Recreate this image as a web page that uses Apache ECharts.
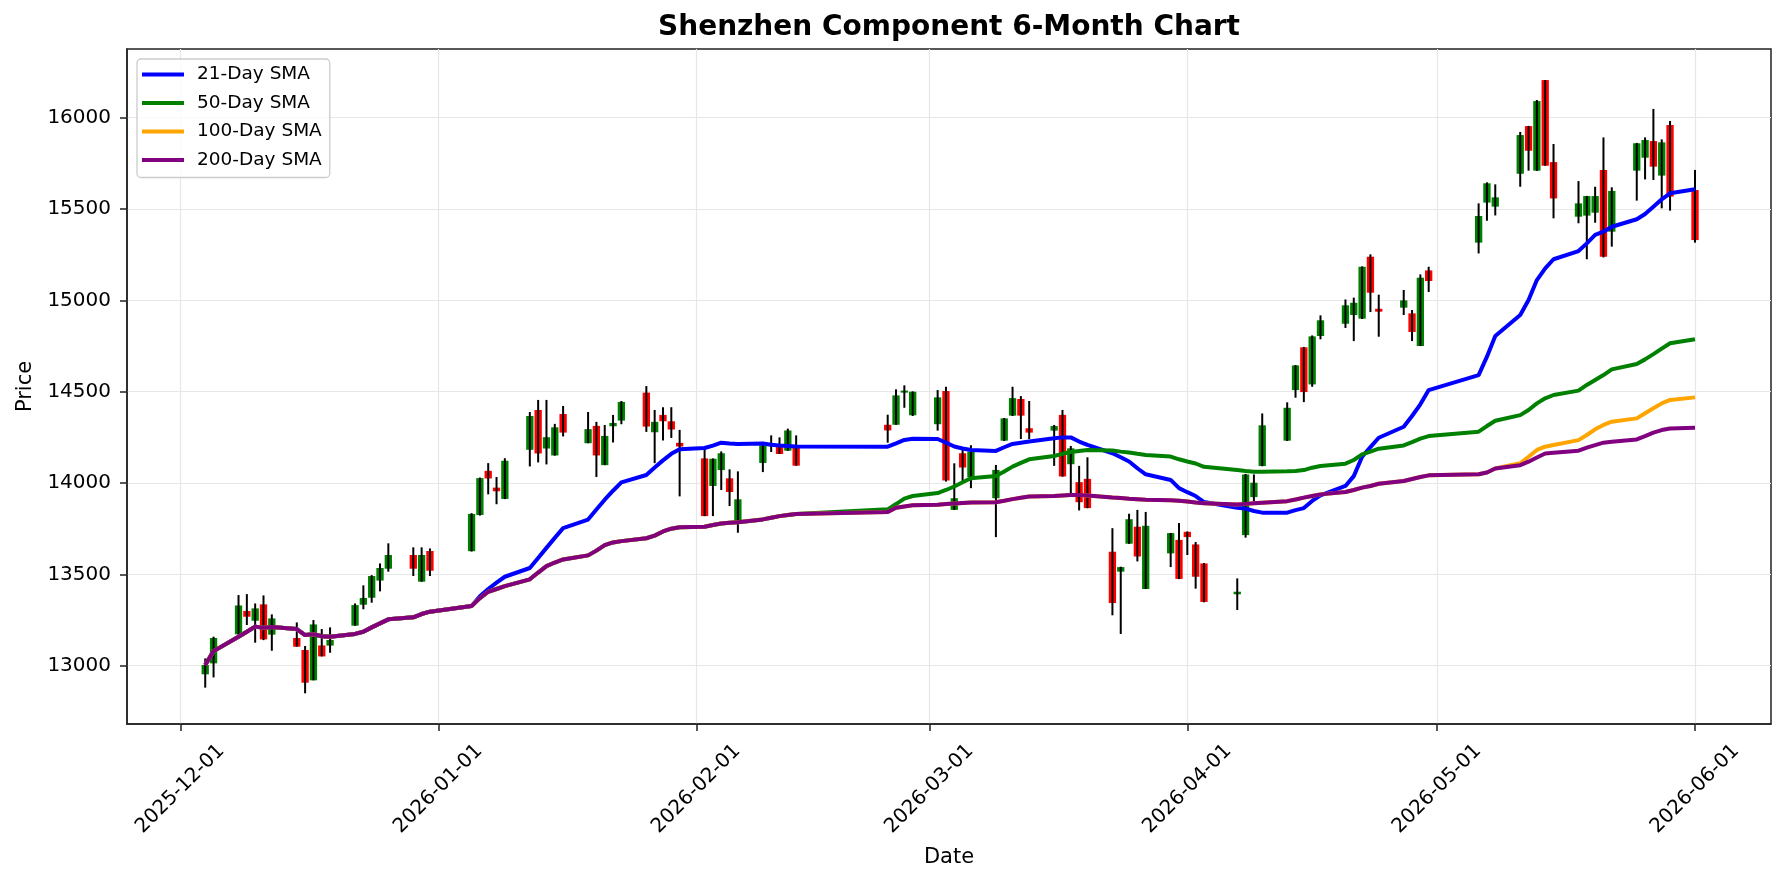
<!DOCTYPE html>
<html>
<head>
<meta charset="utf-8">
<title>Shenzhen Component 6-Month Chart</title>
<script src="https://cdn.jsdelivr.net/npm/echarts@6/dist/echarts.min.js"></script>
<style>
html, body { margin: 0; padding: 0; background: #fff; }
#chart { width: 1785px; height: 885px; }
</style>
</head>
<body>
<div id="chart"></div>
<script>
// trading days
var dates = [
  '2025-12-04','2025-12-05','2025-12-08','2025-12-09','2025-12-10','2025-12-11','2025-12-12','2025-12-15','2025-12-16','2025-12-17',
  '2025-12-18','2025-12-19','2025-12-22','2025-12-23','2025-12-24','2025-12-25','2025-12-26','2025-12-29','2025-12-30','2025-12-31',
  '2026-01-05','2026-01-06','2026-01-07','2026-01-08','2026-01-09','2026-01-12','2026-01-13','2026-01-14','2026-01-15','2026-01-16',
  '2026-01-19','2026-01-20','2026-01-21','2026-01-22','2026-01-23','2026-01-26','2026-01-27','2026-01-28','2026-01-29','2026-01-30',
  '2026-02-02','2026-02-03','2026-02-04','2026-02-05','2026-02-06','2026-02-09','2026-02-10','2026-02-11','2026-02-12','2026-02-13',
  '2026-02-24','2026-02-25','2026-02-26','2026-02-27',
  '2026-03-02','2026-03-03','2026-03-04','2026-03-05','2026-03-06','2026-03-09','2026-03-10','2026-03-11','2026-03-12','2026-03-13',
  '2026-03-16','2026-03-17','2026-03-18','2026-03-19','2026-03-20','2026-03-23','2026-03-24','2026-03-25','2026-03-26','2026-03-27',
  '2026-03-30','2026-03-31',
  '2026-04-01','2026-04-02','2026-04-03','2026-04-07','2026-04-08','2026-04-09','2026-04-10','2026-04-13','2026-04-14','2026-04-15',
  '2026-04-16','2026-04-17','2026-04-20','2026-04-21','2026-04-22','2026-04-23','2026-04-24','2026-04-27','2026-04-28','2026-04-29',
  '2026-04-30',
  '2026-05-06','2026-05-07','2026-05-08','2026-05-11','2026-05-12','2026-05-13','2026-05-14','2026-05-15','2026-05-18','2026-05-19',
  '2026-05-20','2026-05-21','2026-05-22','2026-05-25','2026-05-26','2026-05-27','2026-05-28','2026-05-29',
  '2026-06-01'
];

var openArr = [
  12953,13013,13172,13300,13246,13336,13170,13152,13086,12920,13111,13110,13219,13334,13372,13466,13531,13606,13460,13628,
  13627,13825,14067,13975,13913,14182,14400,14189,14151,14378,14218,14313,14098,14311,14342,14495,14278,14373,14338,14220,
  14135,13984,14071,14026,13792,14110,14212,14197,14177,14192,14319,14319,14495,14371,
  14322,14504,13853,14163,14032,13917,14232,14369,14460,14300,14287,14373,14103,14005,14023,13624,13515,13668,13761,13420,13615,13689,
  13733,13664,13560,13391,13715,13923,14093,14232,14509,14743,14540,14805,14872,14920,14900,15239,14954,14960,14929,14750,15164,
  15316,15535,15513,15693,15954,15710,16206,15757,15458,15464,15480,15714,15376,15710,15781,15872,15683,15960,
  15604
];
var closeArr = [
  13004,13152,13330,13268,13314,13144,13259,13104,12907,13226,13051,13141,13332,13371,13491,13535,13606,13531,13606,13520,
  13831,14027,14025,13955,14122,14367,14162,14251,14305,14276,14295,14151,14258,14329,14444,14309,14335,14338,14293,14200,
  13819,14133,14163,13951,13911,14206,14202,14159,14288,14095,14288,14480,14506,14500,
  14469,14014,13917,14085,14172,14072,14354,14465,14369,14276,14312,14036,14190,13895,13863,13343,13540,13802,13598,13766,13726,13475,
  13704,13487,13349,13405,14047,14002,14316,14412,14644,14498,14803,14891,14973,14987,15184,15042,14938,15000,14827,15124,15106,
  15462,15641,15564,15905,15819,16091,15737,15558,15531,15571,15571,15239,15599,15860,15878,15732,15865,15568,
  15330
];
var lowArr = [
  12880,12936,13170,13223,13126,13140,13082,13104,12849,12920,13051,13071,13219,13309,13345,13407,13515,13491,13460,13491,
  13625,13822,13938,13884,13912,14091,14113,14102,14150,14255,14218,14033,14098,14222,14322,14280,14109,14233,14247,13927,
  13819,13819,13962,13874,13728,14060,14170,14159,14177,14095,14221,14319,14412,14367,
  14287,14008,13853,14008,13972,13704,14230,14367,14241,14241,14094,14035,13944,13850,13862,13276,13174,13667,13571,13420,13540,13474,
  13606,13422,13347,13305,13701,13901,14092,14230,14467,14443,14527,14787,14849,14777,14898,14936,14801,14920,14777,14750,15046,
  15257,15436,15465,15622,15710,15709,15737,15449,15422,15225,15425,15235,15294,15546,15662,15659,15504,15491,
  15316
];
var highArr = [
  13040,13159,13387,13392,13341,13385,13281,13237,13108,13250,13201,13210,13341,13440,13496,13560,13670,13648,13648,13642,
  13835,14030,14109,14033,14136,14389,14455,14455,14324,14422,14389,14335,14318,14373,14449,14531,14400,14415,14415,14291,
  14188,14135,14173,14075,14064,14210,14261,14250,14298,14261,14374,14513,14535,14502,
  14509,14527,14108,14181,14207,14099,14356,14527,14476,14449,14318,14400,14203,14094,14141,13753,13542,13832,13853,13842,13727,13781,
  13735,13677,13562,13478,14050,14047,14381,14442,14646,14745,14808,14918,15005,15015,15186,15252,15031,15057,14947,15142,15184,
  15531,15646,15635,15922,15955,16097,16206,15856,15653,15572,15622,15892,15619,15862,15892,16048,15881,15982,
  15714
];

// moving averages (early parts coincide with the 200-day line)
var sma200 = [
  13004,13080,13159,13186,13214,13208,13212,13201,13168,13172,13161,13159,13174,13186,13210,13232,13254,13265,13283,13296,
  13327,13370,13405,13420,13436,13473,13510,13545,13565,13582,13604,13630,13660,13675,13682,13698,13712,13735,13750,13758,
  13761,13770,13779,13783,13786,13801,13810,13819,13825,13830,13841,13865,13872,13878,
  13881,13885,13888,13891,13894,13895,13903,13912,13919,13926,13929,13932,13934,13935,13932,13921,13918,13914,13911,13908,13906,13903,
  13899,13893,13889,13883,13886,13889,13892,13901,13910,13920,13929,13938,13951,13962,13975,13984,13996,14011,14022,14033,14042,
  14048,14058,14080,14098,14117,14140,14162,14166,14177,14194,14208,14221,14226,14239,14257,14276,14290,14299,
  14303
];
var sma100 = sma200.slice(0, 100).concat([
  14108,14144,14181,14199,14208,14235,14263,14294,14318,14336,14354,14382,14409,14436,14455,
  14469
]);
var sma50 = sma200.slice(0, 50).concat([
  13856,13885,13915,13929,
  13945,13962,13981,14004,14026,14039,14063,14090,14110,14130,14148,14160,14170,14176,14181,14178,14172,14167,14160,14154,14145,14130,
  14118,14107,14089,14071,14066,14062,14062,14064,14066,14071,14084,14093,14106,14126,14157,14172,14188,14206,14224,14243,14257,
  14281,14312,14341,14372,14400,14436,14464,14482,14506,14537,14564,14591,14622,14652,14677,14706,14736,14765,
  14787
]);
var sma21 = sma200.slice(0, 21).concat([
  13380,13420,13455,13487,13535,13590,13645,13700,13753,13800,13855,13909,13958,14004,14044,14085,14124,14160,14185,
  14192,14205,14221,14216,14214,14217,14210,14206,14203,14200,14199,14217,14236,14243,
  14241,14221,14200,14189,14181,14176,14196,14214,14221,14227,14245,14250,14250,14227,14209,14163,14141,14118,14081,14048,14017,13972,
  13950,13929,13896,13865,13860,13847,13838,13838,13852,13863,13902,13933,13984,14038,14144,14197,14248,14308,14367,14431,14509,
  14591,14692,14805,14920,15002,15111,15175,15225,15270,15312,15358,15376,15403,15444,15473,15513,15553,15586,
  15608
]);

var xTickLabels = ['2025-12-01','2026-01-01','2026-02-01','2026-03-01','2026-04-01','2026-05-01','2026-06-01'];
var yTicks = [13000,13500,14000,14500,15000,15500,16000];

var FONT = 'DejaVu Sans';

// days counted from 2025-12-01
function dayOf(s) {
	var p = s.split('-');
	return (Date.UTC(+p[0], +p[1] - 1, +p[2]) - Date.UTC(2025, 11, 1)) / 86400000;
}

var xDays = dates.map(dayOf);
var xTickDays = xTickLabels.map(dayOf);
var tickName = {};
for (var i = 0; i < xTickLabels.length; i++) {
	tickName[xTickDays[i]] = xTickLabels[i];
}

var candleData = [];
for (var i = 0; i < dates.length; i++) {
	candleData.push([xDays[i], openArr[i], closeArr[i], lowArr[i], highArr[i]]);
}

function lineData(arr) {
	return arr.map(function (v, i) { return [xDays[i], v]; });
}

function smaSeries(name, arr, color) {
	return {
		name: name,
		type: 'line',
		data: lineData(arr),
		symbol: 'none',
		showSymbol: false,
		lineStyle: { color: color, width: 4 },
		itemStyle: { color: color },
		emphasis: { disabled: true }
	};
}

var myChart = echarts.init(document.getElementById('chart'));

var option = {
	animation: false,
	backgroundColor: '#fff',
	title: {
		text: 'Shenzhen Component 6-Month Chart',
		left: 949,
		top: 14,
		padding: 0,
		textAlign: 'center',
		textStyle: { fontFamily: FONT, fontSize: 28, fontWeight: 'bold', color: '#000' }
	},
	legend: {
		orient: 'vertical',
		left: 137,
		top: 59,
		data: ['21-Day SMA', '50-Day SMA', '100-Day SMA', '200-Day SMA'],
		icon: 'rect',
		itemWidth: 42,
		itemHeight: 4,
		itemGap: 9.5,
		padding: [6, 8, 8, 5],
		backgroundColor: 'rgba(255,255,255,0.8)',
		borderColor: '#cccccc',
		borderWidth: 1.3,
		borderRadius: 4,
		textStyle: { fontFamily: FONT, fontSize: 18.5, color: '#000', padding: [0, 0, 0, 8] }
	},
	grid: {
		left: 127, top: 49, right: 14, bottom: 161,
		show: true,
		borderColor: '#222',
		borderWidth: 1.5,
		containLabel: false,
		outerBoundsMode: 'none'
	},
	xAxis: {
		type: 'value',
		min: -6.40,
		max: 191.13,
		name: 'Date',
		nameLocation: 'middle',
		nameGap: 123,
		nameTextStyle: { fontFamily: FONT, fontSize: 21, color: '#000' },
		axisLine: { onZero: false, lineStyle: { color: '#222', width: 1.5 } },
		axisTick: { show: true, length: 7, customValues: xTickDays, lineStyle: { color: '#222', width: 1.5 } },
		axisLabel: {
			customValues: xTickDays,
			rotate: 45,
			align: 'center',
			verticalAlign: 'middle',
			margin: 65,
			fontFamily: FONT,
			fontSize: 20,
			color: '#000',
			formatter: function (v) { return tickName[v] || ''; }
		},
		splitLine: { show: true, lineStyle: { color: '#e7e7e7', width: 1.2 } }
	},
	yAxis: {
		type: 'value',
		min: 12681,
		max: 16376,
		name: 'Price',
		nameLocation: 'middle',
		nameGap: 83,
		nameTextStyle: { fontFamily: FONT, fontSize: 21, color: '#000' },
		axisLine: { show: true, onZero: false, lineStyle: { color: '#222', width: 1.5 } },
		axisTick: { show: true, length: 7, customValues: yTicks, lineStyle: { color: '#222', width: 1.5 } },
		axisLabel: {
			customValues: yTicks,
			margin: 16,
			fontFamily: FONT,
			fontSize: 20,
			color: '#000',
			formatter: function (v) { return String(v); }
		},
		splitLine: { show: true, lineStyle: { color: '#e7e7e7', width: 1.2 } }
	},
	series: [
		smaSeries('21-Day SMA', sma21, '#0000ff'),
		smaSeries('50-Day SMA', sma50, '#008000'),
		smaSeries('100-Day SMA', sma100, '#ffa500'),
		smaSeries('200-Day SMA', sma200, '#800080'),
		{
			name: 'candles',
			type: 'custom',
			data: candleData,
			encode: { x: 0, y: [1, 2, 3, 4] },
			renderItem: function (params, api) {
				var x = api.value(0);
				var o = api.value(1), c = api.value(2), l = api.value(3), h = api.value(4);
				var pO = api.coord([x, o]);
				var pC = api.coord([x, c]);
				var pL = api.coord([x, l]);
				var pH = api.coord([x, h]);
				var w = api.size([0.88, 0])[0];
				var top = Math.min(pO[1], pC[1]);
				var hgt = Math.max(Math.abs(pO[1] - pC[1]), 1);
				return {
					type: 'group',
					children: [
						{
							type: 'rect',
							shape: { x: pO[0] - w / 2, y: top, width: w, height: hgt },
							style: { fill: c >= o ? '#008000' : '#ff0000' }
						},
						{
							type: 'line',
							shape: { x1: pH[0], y1: pH[1], x2: pL[0], y2: pL[1] },
							style: { stroke: '#000', lineWidth: 2 }
						}
					]
				};
			}
		}
	]
};

myChart.setOption(option);
</script>
</body>
</html>
